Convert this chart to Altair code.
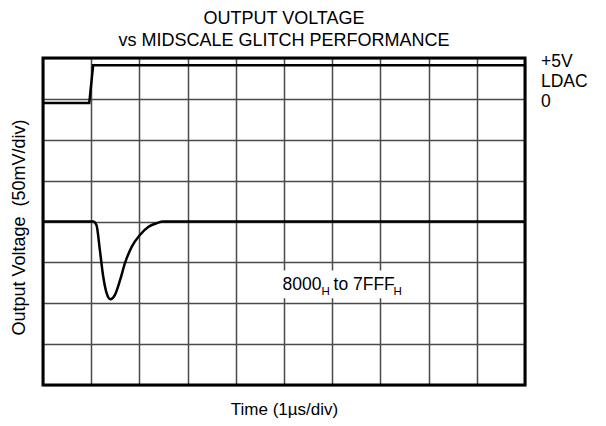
import altair as alt
import pandas as pd

# ---- data (in scope divisions: x 0..10, y 0..8) ----
ldac_t = [0, 0.96, 1.04, 10]
ldac_v = [6.9, 6.9, 7.82, 7.82]

glitch_t = [0, 1.04, 1.11, 1.18, 1.25, 1.32, 1.40, 1.49, 1.60, 1.70, 1.84, 2.01, 2.19, 2.36, 2.50, 10]
glitch_v = [4.0, 4.0, 3.91, 3.30, 2.65, 2.25, 2.10, 2.20, 2.57, 2.98, 3.38, 3.67, 3.87, 3.96, 4.0, 4.0]

right_labels = ["+5V", "LDAC", "0"]
right_label_y = [7.78, 7.29, 6.80]

x_grid = list(range(0, 11))
y_grid = list(range(0, 9))

FONT = "Liberation Sans"

ldac_df = pd.DataFrame({"t": ldac_t, "v": ldac_v})
glitch_df = pd.DataFrame({"t": glitch_t, "v": glitch_v})
lab_df = pd.DataFrame({"label": right_labels, "v": right_label_y, "t": [10] * 3})

xs = alt.Scale(domain=[0, 10], nice=False, zero=False)
ys = alt.Scale(domain=[0, 8], nice=False, zero=False)

xax = alt.Axis(values=x_grid, grid=True, labels=False, ticks=False, domain=False,
               gridColor="#4a4a4a", gridWidth=1.5, gridOpacity=1,
               title="Time (1µs/div)", titleFont=FONT, titleFontSize=17,
               titleFontWeight="normal", titleColor="black", titlePadding=16)
yax = alt.Axis(values=y_grid, grid=True, labels=False, ticks=False, domain=False,
               gridColor="#4a4a4a", gridWidth=1.5, gridOpacity=1,
               title="Output Voltage\u00a0 (50mV/div)", titleFont=FONT, titleFontSize=18,
               titleFontWeight="normal", titleColor="black", titlePadding=15, titleY=169)

base_ldac = alt.Chart(ldac_df).mark_line(color="black", strokeWidth=2.5).encode(
    x=alt.X("t:Q", scale=xs, axis=xax),
    y=alt.Y("v:Q", scale=ys, axis=yax),
)

glitch = alt.Chart(glitch_df).mark_line(color="black", strokeWidth=2.5, interpolate="monotone").encode(
    x=alt.X("t:Q", scale=xs),
    y=alt.Y("v:Q", scale=ys),
)

labels = alt.Chart(lab_df).mark_text(align="left", baseline="alphabetic", dx=16,
                                     font=FONT, fontSize=17.5, color="black").encode(
    x=alt.X("t:Q", scale=xs),
    y=alt.Y("v:Q", scale=ys),
    text="label:N",
)

# frame
frame = alt.Chart(pd.DataFrame({"x": [0], "x2": [10], "y": [0], "y2": [8]})).mark_rect(
    fill=None, filled=False, stroke="black", strokeWidth=3).encode(
    x=alt.X("x:Q", scale=xs), x2="x2:Q",
    y=alt.Y("y:Q", scale=ys), y2="y2:Q",
)

# annotation "8000_H to 7FFF_H" with white background box
ann_x = 4.97
ann_y = 2.32
box = alt.Chart(pd.DataFrame({"x": [4.90], "x2": [7.68], "y": [2.80], "y2": [2.12]})).mark_rect(
    color="white").encode(
    x=alt.X("x:Q", scale=xs), x2="x2:Q",
    y=alt.Y("y:Q", scale=ys), y2="y2:Q",
)

main_parts = pd.DataFrame({"txt": ["8000", "to 7FFF"], "dx": [0, 51], "t": [ann_x] * 2, "v": [ann_y] * 2})
sub_parts = pd.DataFrame({"txt": ["H", "H"], "dx": [39, 111], "t": [ann_x] * 2, "v": [ann_y] * 2})

main_txt = alt.layer(*[
    alt.Chart(main_parts.iloc[[i]]).mark_text(align="left", baseline="alphabetic", dx=int(main_parts.dx[i]),
                                               font=FONT, fontSize=17.5, color="black").encode(
        x=alt.X("t:Q", scale=xs), y=alt.Y("v:Q", scale=ys), text="txt:N")
    for i in range(len(main_parts))
])
sub_txt = alt.layer(*[
    alt.Chart(sub_parts.iloc[[i]]).mark_text(align="left", baseline="alphabetic", dx=int(sub_parts.dx[i]), dy=5,
                                              font=FONT, fontSize=11.5, color="black").encode(
        x=alt.X("t:Q", scale=xs), y=alt.Y("v:Q", scale=ys), text="txt:N")
    for i in range(len(sub_parts))
])

chart = alt.layer(base_ldac, glitch, box, main_txt, sub_txt, labels, frame).properties(
    width=482, height=327,
    autosize=alt.AutoSizeParams(type="none"),
    padding={"left": 35, "top": 50, "right": 73, "bottom": 33},
    title=alt.TitleParams(["OUTPUT VOLTAGE", "vs MIDSCALE GLITCH PERFORMANCE"],
                          font=FONT, fontSize=18, fontWeight="normal", color="black",
                          lineHeight=22, offset=3, anchor="middle"),
).configure_view(stroke=None).configure(background="white")

chart.save("out.html", embed_options={"renderer": "svg", "actions": False})
